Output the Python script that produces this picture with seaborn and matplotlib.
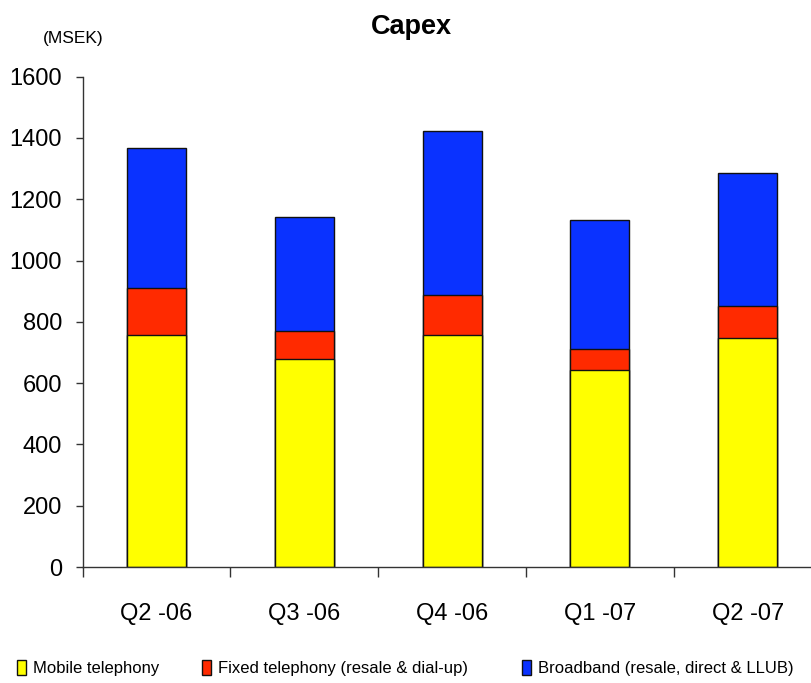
import matplotlib
matplotlib.use("Agg")
import matplotlib.pyplot as plt
from matplotlib.patches import Patch
import numpy as np
import pandas as pd
import seaborn as sns

# Quarterly capex by segment (MSEK)
quarters = ["Q2 -06", "Q3 -06", "Q4 -06", "Q1 -07", "Q2 -07"]
mobile = [758, 678, 758, 642, 746]
fixed = [152, 92, 130, 69, 107]
broadband = [456, 373, 536, 421, 432]

series_names = [
    "Mobile telephony",
    "Fixed telephony (resale & dial-up)",
    "Broadband (resale, direct & LLUB)",
]
series_colors = ["#FFFF00", "#FF2A00", "#0A32FF"]
yticks = [0, 200, 400, 600, 800, 1000, 1200, 1400, 1600]

sns.set_style("white")
plt.rcParams["font.family"] = ["Liberation Sans", "DejaVu Sans"]
plt.rcParams["text.color"] = "black"
plt.rcParams["xtick.color"] = "black"
plt.rcParams["ytick.color"] = "black"

df = pd.DataFrame({"quarter": quarters, "mobile": mobile,
                   "fixed": fixed, "broadband": broadband})
df["lvl1"] = df["mobile"]
df["lvl2"] = df["mobile"] + df["fixed"]
df["lvl3"] = df["lvl2"] + df["broadband"]

fig = plt.figure(figsize=(8.12, 6.83), dpi=100)
ax = fig.add_axes([0.1018, 0.1698, 0.910, 0.7179])

# Stack by overlaying cumulative totals, tallest first
for col, color in zip(["lvl3", "lvl2", "lvl1"], series_colors[::-1]):
    sns.barplot(data=df, x="quarter", y=col, color=color, width=0.4,
                edgecolor="#111111", linewidth=1.0, saturation=1, ax=ax)

ax.set_xlim(-0.5, len(quarters) - 0.5)
ax.set_ylim(0, 1600)
ax.set_yticks(yticks)
ax.set_xlabel("")
ax.set_ylabel("")

for side in ["top", "right"]:
    ax.spines[side].set_visible(False)
for side in ["left", "bottom"]:
    ax.spines[side].set_color("#333333")
    ax.spines[side].set_linewidth(1.0)

ax.tick_params(axis="y", which="major", direction="out", length=4.8, width=1,
               color="#333333", pad=10, labelsize=17, left=True)
ax.tick_params(axis="x", which="major", length=0, pad=26, labelsize=17)
ax.set_xticks(np.arange(-0.5, len(quarters), 1.0), minor=True)
ax.tick_params(axis="x", which="minor", direction="out", length=7.5, width=1,
               color="#333333", bottom=True)

fig.text(0.507, 1 - 27 / 683, "Capex", ha="center", va="center",
         fontsize=19.5, fontweight="bold")
fig.text(73 / 812, 1 - 39 / 683, "(MSEK)", ha="center", va="center", fontsize=12.5)

# Legend entries along the bottom edge
legend_fs = 12
legend_x = [16.7, 201.7, 522]
for name, color, x in zip(series_names, series_colors, legend_x):
    handle = Patch(facecolor=color, edgecolor="#111111", linewidth=1.0)
    fig.legend([handle], [name], loc="center left",
               bbox_to_anchor=(x / 812, 1 - 668 / 683), frameon=False,
               fontsize=legend_fs, handlelength=0.54, handleheight=0.96,
               handletextpad=0.42, borderpad=0, borderaxespad=0)

fig.savefig("out.png", dpi=100)
